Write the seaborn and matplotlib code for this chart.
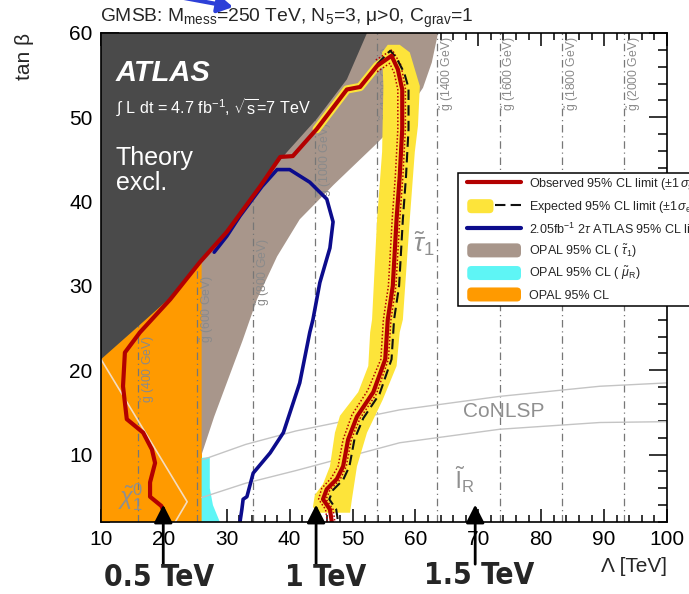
import matplotlib
matplotlib.use("Agg")
import matplotlib.pyplot as plt
import seaborn as sns
from matplotlib.patches import Patch, FancyBboxPatch, Rectangle
from matplotlib.lines import Line2D
from matplotlib.legend_handler import HandlerPatch, HandlerTuple
from matplotlib.ticker import MultipleLocator

# ---------------- GMSB exclusion in the (Lambda, tan beta) plane ----------------
# theoretically excluded region (upper-left), lower boundary
theory_lam = [10, 15, 21, 25.7, 30, 35.3, 39.6, 44.3, 49.1, 52.3]
theory_tb = [21.3, 24.6, 28.6, 32.9, 36.6, 42.0, 45.9, 49.8, 54.5, 60]

# OPAL stau band, lower-right edge
opal_stau_lam = [26.0, 28.0, 30.0, 32.5, 34.8, 38.0, 41.6, 47.0, 54.0, 58.5, 61.2, 62.6, 63.6]
opal_stau_tb = [10.0, 14.5, 18.5, 23.5, 28.4, 33.5, 37.9, 42.0, 47.0, 50.5, 53.5, 56.5, 60.0]

# OPAL smuon region
opal_smu_lam = [26.0, 26.0, 27.3, 27.3, 27.8, 28.9]
opal_smu_tb = [2.0, 9.6, 9.7, 6.0, 4.0, 2.0]

# OPAL 95% CL (neutralino NLSP) region edge in Lambda
opal_lam_max = 26.0

# observed 95% CL limit
obs_lam = [20.7, 19.6, 17.8, 17.8, 18.6, 18.1, 16.7, 14.1, 13.5, 13.8,
           16.2, 21.0, 25.7, 30.0, 35.3, 38.5, 40.5, 44.3, 49.1, 51.2,
           53.9, 56.2, 57.2, 57.9, 57.9, 57.5, 57.0, 56.4, 55.6, 55.2,
           53.3, 50.7, 49.3, 48.5, 47.5, 45.9, 45.3, 46.4, 46.7]
obs_tb = [2.0, 3.9, 5.0, 6.7, 9.0, 10.6, 12.6, 14.2, 18.1, 22.1,
          24.5, 28.4, 32.8, 36.4, 41.8, 45.3, 45.4, 48.6, 53.3, 53.6,
          56.1, 57.3, 55.7, 53.3, 48.6, 43.0, 37.9, 30.0, 26.0, 21.3,
          17.4, 14.5, 11.8, 8.6, 7.1, 5.9, 4.7, 3.5, 2.0]

# observed limit, -1 sigma theory (inner) and +1 sigma theory (outer)
obs_in_lam = [53.9, 55.9, 56.6, 57.2, 57.2, 56.8, 56.3, 55.7, 54.9, 54.5,
              52.4, 49.9, 48.5, 47.7, 46.6, 45.1, 44.6, 45.7, 46.0]
obs_in_tb = [55.4, 56.4, 55.3, 53.3, 48.6, 43.0, 37.9, 30.0, 26.0, 21.3,
             17.6, 14.7, 11.8, 8.6, 7.2, 6.0, 4.7, 3.5, 2.0]
obs_out_lam = [53.7, 56.3, 57.7, 58.4, 58.4, 58.0, 57.5, 56.9, 56.1, 55.7,
               53.8, 51.2, 49.8, 49.0, 48.0, 46.4, 45.8, 46.9, 47.2]
obs_out_tb = [56.8, 58.0, 56.2, 53.4, 48.6, 43.0, 37.9, 30.0, 26.0, 21.3,
              17.2, 14.3, 11.8, 8.6, 7.0, 5.8, 4.7, 3.5, 2.0]

# expected 95% CL limit
exp_lam = [53.9, 56.0, 57.0, 58.2, 58.9, 58.9, 58.5, 58.0, 57.4, 56.6,
           56.2, 54.3, 51.7, 50.3, 49.5, 48.5, 46.9, 46.3, 47.4, 47.7]
exp_tb = [56.3, 57.9, 57.0, 55.3, 53.5, 48.6, 43.0, 37.9, 30.0, 26.0,
          21.3, 17.2, 14.3, 11.8, 8.6, 7.0, 5.8, 4.7, 3.5, 2.0]

# expected +-1 sigma band (left edge upwards, right edge downwards)
band_lam = [44.3, 43.7, 44.0, 45.3, 46.4, 47.2, 48.0, 50.9, 52.5, 52.8,
            53.1, 53.9, 54.7, 54.9, 54.7, 55.6, 57.5, 59.1, 60.7, 60.4,
            59.9, 59.1, 58.0, 57.5, 57.0, 54.8, 52.3, 50.7, 49.9, 49.6]
band_tb = [3.1, 3.8, 5.2, 6.5, 8.6, 12.6, 14.6, 17.4, 20.5, 24.5,
           26.0, 37.9, 45.9, 53.7, 57.7, 58.6, 58.6, 57.7, 53.7, 49.0,
           45.9, 37.9, 26.0, 24.5, 20.5, 16.5, 12.6, 8.6, 4.7, 3.1]

# 2.05 fb-1 2tau ATLAS limit
prev_lam = [32.1, 32.4, 32.6, 33.2, 34.2, 36.9, 39.0, 41.6, 43.2, 43.7,
            44.8, 46.4, 46.9, 45.9, 43.2, 40.0, 38.0, 35.6, 32.1, 30.0, 28.0]
prev_tb = [2.0, 3.5, 4.7, 5.0, 7.8, 10.2, 12.6, 18.5, 24.5, 26.0,
           30.4, 34.5, 37.6, 40.3, 42.3, 43.8, 43.8, 41.8, 38.3, 35.9, 34.0]

# NLSP boundaries
chi_lam = [10.0, 23.7, 21.8]
chi_tb = [21.3, 4.4, 2.0]
conlsp_up_lam = [26.2, 33.0, 41.0, 57.5, 73.4, 89.3, 100.0]
conlsp_up_tb = [9.4, 11.2, 12.8, 15.3, 16.9, 18.1, 18.5]
conlsp_lo_lam = [26.0, 33.0, 41.0, 57.5, 73.4, 89.3, 100.0]
conlsp_lo_tb = [4.9, 6.6, 8.1, 11.4, 13.0, 13.8, 13.9]

# gluino mass contours
gluino_lam = [15.9, 25.3, 34.2, 44.0, 53.9, 63.4, 73.4, 83.3, 93.2]
gluino_mass = ["400", "600", "800", "1000", "1200", "1400", "1600", "1800", "2000"]
gluino_label_tb = [20.1, 27.3, 31.6, 45.0, 54.0, 55.2, 55.2, 55.2, 55.2]

# gluino mass reference arrows
arrow_lam = [19.9, 44.2, 69.5]
arrow_text = ["0.5 TeV", "1 TeV", "1.5 TeV"]

# ---------------- styling ----------------
sns.set_style("ticks")
plt.rcParams["font.family"] = ["Liberation Sans", "DejaVu Sans"]
plt.rcParams["mathtext.fontset"] = "custom"
plt.rcParams["mathtext.rm"] = "Liberation Sans"
plt.rcParams["mathtext.it"] = "Liberation Sans:italic"
plt.rcParams["mathtext.bf"] = "Liberation Sans:bold"

C_DARK = "#4a4a4a"
C_BROWN = "#a8968b"
C_ORANGE = "#ff9a00"
C_CYAN = "#5ef5f5"
C_YELLOW = "#fde43a"
C_RED = "#b30000"
C_BLUE = "#0c0c8c"
C_GREY = "#8f8f8f"

W, H = 689, 594
fig = plt.figure(figsize=(W / 100, H / 100), dpi=100)
ax = fig.add_axes([101 / W, 72 / H, 566 / W, 489 / H])
ax.set_xlim(10, 100)
ax.set_ylim(2, 60)


def fx(px):
    return px / W


def fy(py):
    return 1 - py / H


# filled regions
ax.fill_between([10, opal_lam_max], 2, 60, color=C_ORANGE, lw=0, zorder=1)
ax.fill(opal_stau_lam + [opal_lam_max], opal_stau_tb + [60], color=C_BROWN, lw=0, zorder=1)
ax.fill(opal_smu_lam, opal_smu_tb, color=C_CYAN, lw=0, zorder=1)

# gluino mass lines and labels
for lam, m, tb in zip(gluino_lam, gluino_mass, gluino_label_tb):
    ax.axvline(lam, color="#777777", lw=0.9, ls=(0, (6, 3, 1, 3)), zorder=2)
    ax.text(lam + 1.6, tb, r"$\tilde{\mathrm{g}}$ (" + m + " GeV)", rotation=90,
            ha="center", va="center", fontsize=8.8, color="#8a8a8a", zorder=2.5)

# NLSP boundaries
sns.lineplot(x=chi_lam, y=chi_tb, sort=False, estimator=None, ax=ax,
             color="#f4dcc0", lw=1.2, zorder=2)
sns.lineplot(x=conlsp_up_lam, y=conlsp_up_tb, sort=False, estimator=None, ax=ax,
             color="#c4c4c4", lw=1.0, zorder=2)
sns.lineplot(x=conlsp_lo_lam, y=conlsp_lo_tb, sort=False, estimator=None, ax=ax,
             color="#c4c4c4", lw=1.0, zorder=2)

# theoretically excluded region
ax.fill(theory_lam + [10], theory_tb + [60], color=C_DARK, lw=0, zorder=3)

# expected band
ax.fill(band_lam, band_tb, color=C_YELLOW, lw=0, zorder=4)
sns.lineplot(x=obs_lam[17:22], y=obs_tb[17:22], sort=False, estimator=None, ax=ax,
             color=C_YELLOW, lw=6, zorder=4)

# limits
sns.lineplot(x=prev_lam, y=prev_tb, sort=False, estimator=None, ax=ax,
             color=C_BLUE, lw=2.6, zorder=5)
sns.lineplot(x=obs_in_lam, y=obs_in_tb, sort=False, estimator=None, ax=ax,
             color=C_RED, lw=1.1, ls=(0, (1, 1.3)), zorder=5)
sns.lineplot(x=obs_out_lam, y=obs_out_tb, sort=False, estimator=None, ax=ax,
             color=C_RED, lw=1.1, ls=(0, (1, 1.3)), zorder=5)
sns.lineplot(x=exp_lam, y=exp_tb, sort=False, estimator=None, ax=ax,
             color="#111111", lw=1.5, ls=(0, (5, 2.5)), zorder=6)
sns.lineplot(x=obs_lam, y=obs_tb, sort=False, estimator=None, ax=ax,
             color=C_RED, lw=3.0, zorder=7)

# region labels
ax.text(14.8, 5.0, r"$\tilde{\chi}^{0}_{1}$", fontsize=17, color=C_GREY,
        ha="center", va="center", zorder=8)
ax.text(61.3, 35.0, r"$\tilde{\tau}_{1}$", fontsize=19, color=C_GREY,
        ha="center", va="center", zorder=8)
ax.text(74.1, 15.1, "CoNLSP", fontsize=15, color=C_GREY,
        ha="center", va="center", zorder=8)
ax.text(67.9, 7.0, r"$\tilde{\mathrm{l}}_{\mathrm{R}}$", fontsize=17, color=C_GREY,
        ha="center", va="center", zorder=8)

# axes, ticks
ax.xaxis.set_major_locator(MultipleLocator(10))
ax.xaxis.set_minor_locator(MultipleLocator(2))
ax.yaxis.set_major_locator(MultipleLocator(10))
ax.yaxis.set_minor_locator(MultipleLocator(2))
ax.tick_params(which="both", direction="in", top=True, right=True, width=1.1,
               colors="black", labelsize=15)
ax.tick_params(axis="x", which="major", length=9.5, pad=6)
ax.tick_params(axis="x", which="minor", length=5)
ax.tick_params(axis="y", which="major", length=13, pad=6)
ax.tick_params(axis="y", which="minor", length=6.5)
for s in ax.spines.values():
    s.set_linewidth(1.2)
    s.set_color("black")
    s.set_zorder(9)
ax.set_xlabel("")
ax.set_ylabel("")

fig.text(fx(25), fy(56), "tan β", rotation=90, ha="center", va="center", fontsize=15)
fig.text(fx(667), fy(567), "Λ [TeV]", ha="right", va="center", fontsize=15)
fig.text(fx(100), fy(21.5), r"GMSB: M$_{\mathrm{mess}}$=250 TeV, N$_{5}$=3, μ>0, C$_{\mathrm{grav}}$=1",
         ha="left", va="baseline", fontsize=13.9)

# ATLAS block
fig.text(fx(116), fy(73), "ATLAS", fontsize=21, fontweight="bold", fontstyle="italic",
         color="white", ha="left", va="center", zorder=10)
fig.text(fx(116), fy(108), r"$\int$ L dt = 4.7 fb$^{-1}$, $\sqrt{\mathrm{s}}$=7 TeV", fontsize=11.6,
         color="white", ha="left", va="center", zorder=10)
fig.text(fx(116), fy(158), "Theory", fontsize=18, color="white", ha="left", va="center", zorder=10)
fig.text(fx(116), fy(183), "excl.", fontsize=18, color="white", ha="left", va="center", zorder=10)

# gluino mass reference arrows
for lam in arrow_lam:
    ax.annotate("", xy=(lam, 4.05), xytext=(lam, -3.0), xycoords="data", textcoords="data",
                arrowprops=dict(arrowstyle="-|>,head_length=0.55,head_width=0.28",
                                color="black", lw=2, mutation_scale=20, shrinkA=0, shrinkB=0),
                annotation_clip=False, zorder=10)
text_px = [(159, 578), (326, 578), (479, 575)]
for (px, py), txt in zip(text_px, arrow_text):
    fig.text(fx(px), fy(py), txt, ha="center", va="center", fontsize=21.5, fontweight="bold",
             fontstretch="condensed", family=["DejaVu Sans", "Liberation Sans"])

# arrow at the top edge
ax.annotate("", xy=(233, H - 7), xycoords="figure pixels", xytext=(168, H + 5),
            textcoords="figure pixels",
            arrowprops=dict(arrowstyle="-|>,head_length=0.6,head_width=0.35", color="#2d40d8",
                            lw=3, mutation_scale=15, shrinkA=0, shrinkB=0),
            annotation_clip=False)


# legend
def rounded_patch(legend, orig_handle, xdescent, ydescent, width, height, fontsize):
    return FancyBboxPatch((-xdescent, -ydescent), width, height,
                          boxstyle="round,pad=0,rounding_size=3")


handles = [
    Line2D([], [], color=C_RED, lw=3),
    (Patch(facecolor=C_YELLOW, edgecolor="none"),
     Line2D([], [], color="#111111", lw=1.5, ls=(0, (5, 2.5)))),
    Line2D([], [], color=C_BLUE, lw=3),
    Patch(facecolor=C_BROWN, edgecolor="none"),
    Patch(facecolor=C_CYAN, edgecolor="none"),
    Patch(facecolor=C_ORANGE, edgecolor="none"),
]
labels = [
    r"Observed 95% CL limit ($\pm1\,\sigma^{\mathrm{theory}}_{\mathrm{SUSY}}$)",
    r"Expected 95% CL limit ($\pm1\,\sigma_{\mathrm{exp}}$)",
    r"2.05fb$^{-1}$ 2$\tau$ ATLAS 95% CL limit",
    r"OPAL 95% CL ( $\tilde{\tau}_{1}$)",
    r"OPAL 95% CL ( $\tilde{\mu}_{\mathrm{R}}$)",
    "OPAL 95% CL",
]
leg = fig.legend(handles, labels, loc="upper left", bbox_to_anchor=(fx(466), fy(171)),
                 frameon=False, fontsize=9, borderpad=0.1, borderaxespad=0,
                 handlelength=4.3, handleheight=1.35, handletextpad=0.65, labelspacing=0.42,
                 handler_map={Patch: HandlerPatch(patch_func=rounded_patch),
                              tuple: HandlerTuple(ndivide=None)})
leg.set_zorder(12)
frame = Rectangle((fx(458), fy(306)), 0.5, fy(173) - fy(306), transform=fig.transFigure,
                  fill=True, facecolor="white", edgecolor="black", lw=1.1, zorder=11)
fig.add_artist(frame)

fig.savefig("out.png", dpi=100)
